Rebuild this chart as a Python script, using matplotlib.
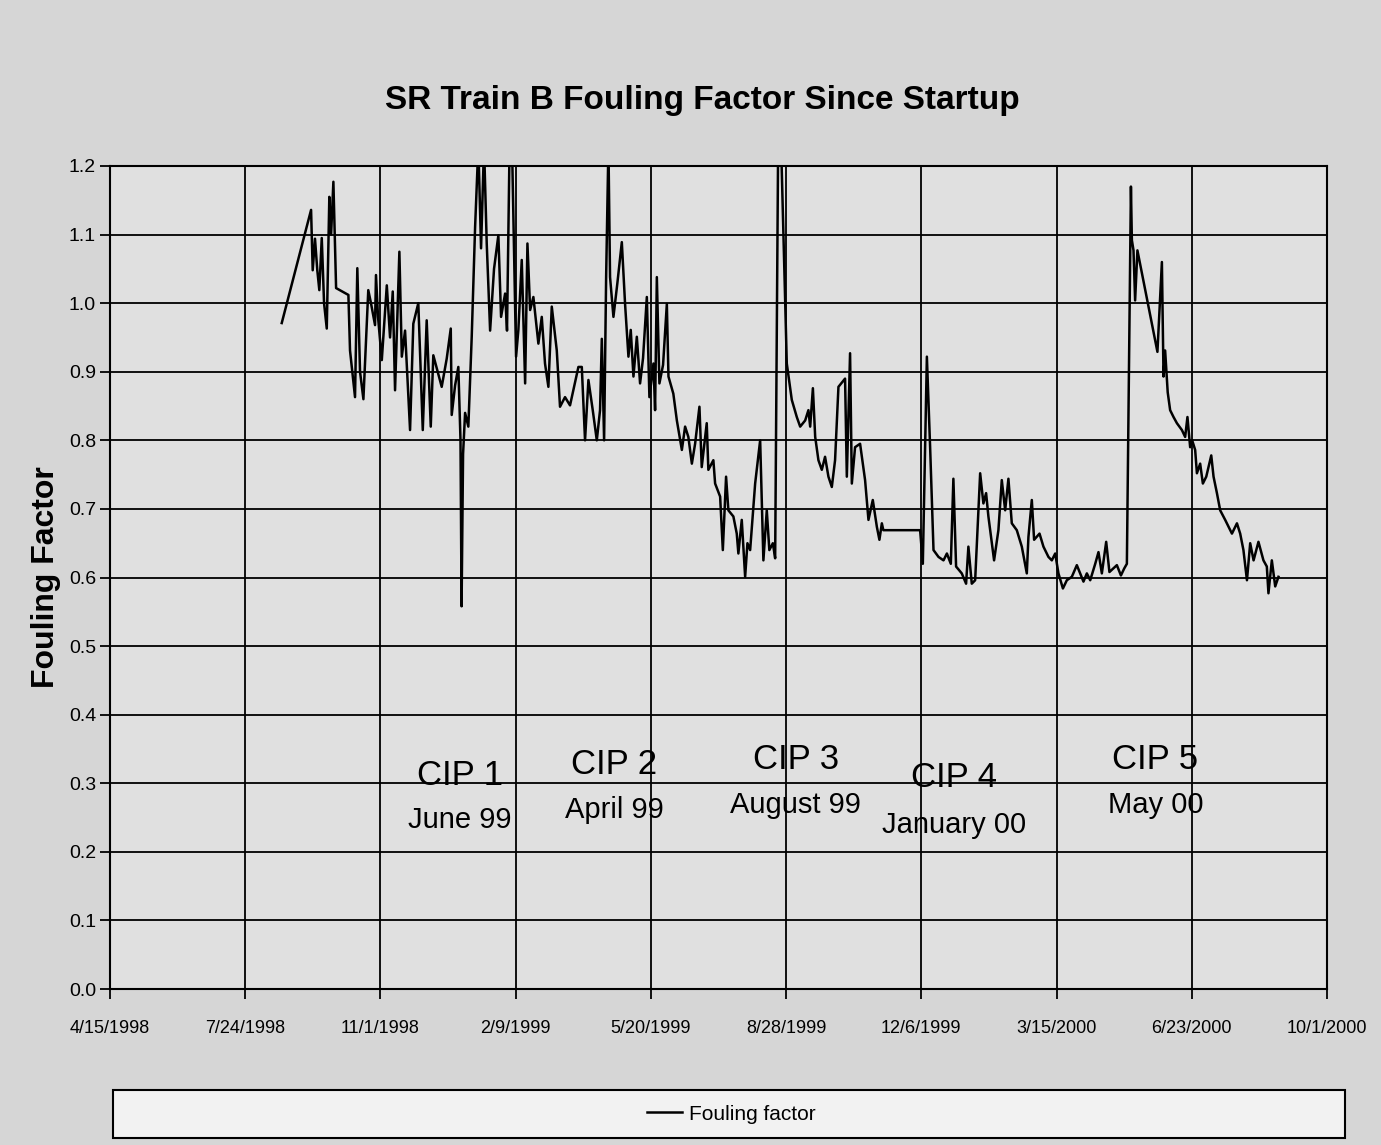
import numpy as np
import pandas as pd
import matplotlib
matplotlib.use("Agg")
import matplotlib.pyplot as plt
from matplotlib.patches import Rectangle

plt.rcParams['font.family'] = ['Liberation Sans Narrow', 'Liberation Sans', 'DejaVu Sans']

# ---- data ----
start_date = "1998-04-15"
day_offsets = [127.0, 148.7, 149.9, 151.6, 153.3, 154.8, 156.6, 158.3, 160.3, 162.2,
               163.5, 165.2, 167.2, 176.3, 177.5, 181.2, 182.9, 184.9, 187.4, 191.0,
               193.0, 196.0, 196.7, 198.2, 201.0, 204.7, 207.1, 209.1, 210.8, 214.0,
               215.8, 218.2, 221.9, 224.3, 228.0, 231.3, 234.2, 237.2, 239.1, 245.3,
               249.0, 252.0, 252.7, 255.2, 257.6, 259.2, 260.0, 261.1, 262.6, 265.0,
               267.5, 270.0, 272.4, 274.4, 276.6, 278.6, 281.1, 284.0, 287.2, 289.2,
               292.2, 293.6, 295.5, 297.3, 299.6, 300.3, 302.0, 304.5, 307.0, 308.7,
               310.7, 313.1, 316.8, 319.3, 321.7, 324.2, 326.7, 330.4, 332.8, 336.5,
               340.2, 346.4, 348.9, 351.3, 353.8, 357.0, 360.0, 362.4, 363.7, 365.4,
               366.9, 368.6, 369.8, 372.3, 375.2, 378.5, 380.9, 383.4, 385.1, 387.1,
               389.6, 392.0, 394.2, 397.0, 398.9, 401.9, 403.1, 404.4, 406.3, 409.0,
               411.8, 413.0, 416.6, 419.2, 422.9, 425.3, 427.7, 430.3, 432.7, 435.9,
               437.6, 441.3, 442.5, 446.2, 447.5, 451.2, 453.2, 455.6, 457.3, 461.0,
               463.5, 464.7, 467.2, 469.7, 471.4, 473.4, 477.1, 480.8, 483.2, 485.7,
               487.6, 490.2, 491.9, 494.1, 496.3, 500.5, 504.2, 507.9, 510.4, 514.1,
               516.5, 517.8, 519.8, 521.5, 523.9, 526.4, 528.8, 531.3, 533.8, 536.2,
               538.7, 543.6, 544.9, 547.3, 548.6, 551.0, 554.7, 558.4, 560.9, 564.1,
               567.1, 569.0, 570.8, 571.9, 599.1, 601.1, 604.1, 606.5, 609.0, 612.7,
               616.4, 618.9, 621.8, 623.7, 625.7, 629.9, 633.1, 634.8, 637.3, 639.8,
               643.5, 645.9, 647.9, 649.6, 653.8, 657.0, 659.5, 662.0, 664.4, 666.9,
               670.6, 674.3, 678.0, 679.2, 681.7, 683.4, 687.4, 690.3, 694.0, 696.5,
               699.0, 701.4, 704.7, 707.6, 711.3, 715.0, 719.9, 722.4, 724.9, 728.6,
               731.0, 733.5, 736.7, 739.1, 744.6, 747.6, 750.0, 752.0, 755.0, 755.7,
               756.9, 758.1, 759.8, 774.6, 777.9, 779.1, 780.3, 782.2, 784.0, 786.5,
               789.0, 792.7, 795.1, 796.8, 798.8, 800.3, 802.5, 803.8, 806.2, 808.2,
               810.7, 814.4, 816.1, 818.6, 821.0, 824.7, 829.7, 833.4, 835.8, 838.2,
               840.8, 843.2, 845.7, 849.3, 853.0, 855.5, 856.7, 859.2, 861.7, 864.1]
fouling = [0.971, 1.136, 1.048, 1.094, 1.048, 1.019, 1.095, 1.000, 0.963, 1.155,
           1.100, 1.177, 1.022, 1.012, 0.931, 0.863, 1.051, 0.900, 0.860, 1.019,
           1.000, 0.968, 1.041, 0.980, 0.917, 1.026, 0.950, 1.017, 0.873, 1.075,
           0.922, 0.960, 0.815, 0.970, 1.000, 0.815, 0.975, 0.820, 0.924, 0.878,
           0.919, 0.963, 0.837, 0.880, 0.907, 0.800, 0.558, 0.780, 0.840, 0.820,
           0.951, 1.111, 1.230, 1.080, 1.230, 1.087, 0.960, 1.050, 1.099, 0.980,
           1.014, 0.960, 1.230, 1.230, 0.995, 0.922, 0.961, 1.063, 0.883, 1.087,
           0.990, 1.009, 0.941, 0.980, 0.912, 0.878, 0.995, 0.931, 0.849, 0.863,
           0.851, 0.907, 0.907, 0.800, 0.888, 0.844, 0.800, 0.844, 0.948, 0.800,
           1.038, 1.230, 1.038, 0.980, 1.029, 1.089, 0.999, 0.922, 0.961, 0.893,
           0.951, 0.883, 0.920, 1.009, 0.863, 0.912, 0.844, 1.038, 0.883, 0.910,
           0.999, 0.893, 0.868, 0.829, 0.786, 0.820, 0.805, 0.766, 0.795, 0.849,
           0.761, 0.825, 0.757, 0.771, 0.737, 0.718, 0.640, 0.747, 0.698, 0.689,
           0.664, 0.635, 0.684, 0.601, 0.650, 0.640, 0.737, 0.800, 0.625, 0.698,
           0.640, 0.650, 0.628, 1.230, 1.230, 0.912, 0.859, 0.834, 0.820, 0.829,
           0.844, 0.820, 0.876, 0.805, 0.771, 0.757, 0.776, 0.747, 0.732, 0.771,
           0.878, 0.890, 0.747, 0.927, 0.737, 0.790, 0.795, 0.742, 0.684, 0.713,
           0.674, 0.655, 0.679, 0.669, 0.669, 0.620, 0.922, 0.790, 0.640, 0.630,
           0.625, 0.635, 0.620, 0.744, 0.616, 0.606, 0.591, 0.645, 0.591, 0.596,
           0.752, 0.708, 0.723, 0.689, 0.625, 0.669, 0.742, 0.698, 0.744, 0.679,
           0.669, 0.645, 0.606, 0.659, 0.713, 0.655, 0.664, 0.645, 0.630, 0.625,
           0.635, 0.606, 0.584, 0.596, 0.601, 0.618, 0.594, 0.606, 0.596, 0.620,
           0.637, 0.606, 0.652, 0.608, 0.618, 0.603, 0.613, 0.620, 1.170, 1.092,
           1.077, 1.004, 1.077, 0.929, 1.060, 0.893, 0.931, 0.870, 0.844, 0.834,
           0.825, 0.815, 0.805, 0.834, 0.790, 0.800, 0.786, 0.752, 0.766, 0.737,
           0.747, 0.778, 0.747, 0.723, 0.698, 0.684, 0.664, 0.679, 0.664, 0.640,
           0.596, 0.650, 0.625, 0.652, 0.625, 0.616, 0.577, 0.625, 0.587, 0.601]

tick_dates = ["1998-04-15", "1998-07-24", "1998-11-01", "1999-02-09", "1999-05-20",
              "1999-08-28", "1999-12-06", "2000-03-15", "2000-06-23", "2000-10-01"]
tick_labels = ["4/15/1998", "7/24/1998", "11/1/1998", "2/9/1999", "5/20/1999",
               "8/28/1999", "12/6/1999", "3/15/2000", "6/23/2000", "10/1/2000"]
y_ticks = [0.0, 0.1, 0.2, 0.3, 0.4, 0.5, 0.6, 0.7, 0.8, 0.9, 1.0, 1.1, 1.2]

cip_names = ["CIP 1", "CIP 2", "CIP 3", "CIP 4", "CIP 5"]
cip_months = ["June 99", "April 99", "August 99", "January 00", "May 00"]
cip_dates = ["1998-12-30", "1999-04-23", "1999-09-04", "1999-12-30", "2000-05-27"]
cip_yname = [0.312, 0.327, 0.334, 0.308, 0.334]
cip_ymonth = [0.246, 0.261, 0.268, 0.239, 0.268]

# ---- figure ----
W, H = 1381, 1145
fig = plt.figure(figsize=(W / 100, H / 100), dpi=100, facecolor="#d6d6d6")
ax = fig.add_axes([110 / W, 1 - 989 / H, (1327 - 110) / W, (989 - 166) / H])
ax.set_facecolor("#e0e0e0")

dates = pd.Timestamp(start_date) + pd.to_timedelta(day_offsets, unit="D")
line, = ax.plot(dates, fouling, color="black", lw=1.8, label="Fouling factor")

tick_ts = pd.to_datetime(tick_dates)
ax.set_xlim(tick_ts[0], tick_ts[-1])
ax.set_ylim(0, 1.2)
ax.set_xticks(tick_ts)
ax.set_xticklabels(tick_labels, fontsize=13)
ax.set_yticks(y_ticks)
ax.set_yticklabels([f"{v:.1f}" for v in y_ticks], fontsize=14)
ax.grid(True, color="black", lw=1.3)
ax.set_axisbelow(True)
for s in ax.spines.values():
    s.set_color("black")
    s.set_linewidth(1.5)
ax.tick_params(axis="both", direction="out", length=7, width=1.3, color="black")
ax.tick_params(axis="y", pad=3)
ax.tick_params(axis="x", pad=15)

ax.set_ylabel("Fouling Factor", fontsize=23, fontweight="bold", labelpad=6)
fig.text(702 / W, 1 - 100 / H, "SR Train B Fouling Factor Since Startup",
         ha="center", va="center", fontsize=24, fontweight="bold")

for name, month, d, yn, ym in zip(cip_names, cip_months, cip_dates, cip_yname, cip_ymonth):
    ax.text(pd.Timestamp(d), yn, name, ha="center", va="center", fontsize=25)
    ax.text(pd.Timestamp(d), ym, month, ha="center", va="center", fontsize=21)

# legend frame spanning the reference box, entry centred within it
fig.patches.append(Rectangle((113 / W, 1 - 1138 / H), (1345 - 113) / W, 48 / H,
                             transform=fig.transFigure, facecolor="#f2f2f2",
                             edgecolor="black", lw=1.5, zorder=0))
leg = fig.legend(handles=[line], loc="center",
                 bbox_to_anchor=(731 / W, 1 - 1114 / H),
                 frameon=False, fontsize=15, handlelength=1.7, handletextpad=0.3)

fig.savefig("out.png", dpi=100, facecolor=fig.get_facecolor())
